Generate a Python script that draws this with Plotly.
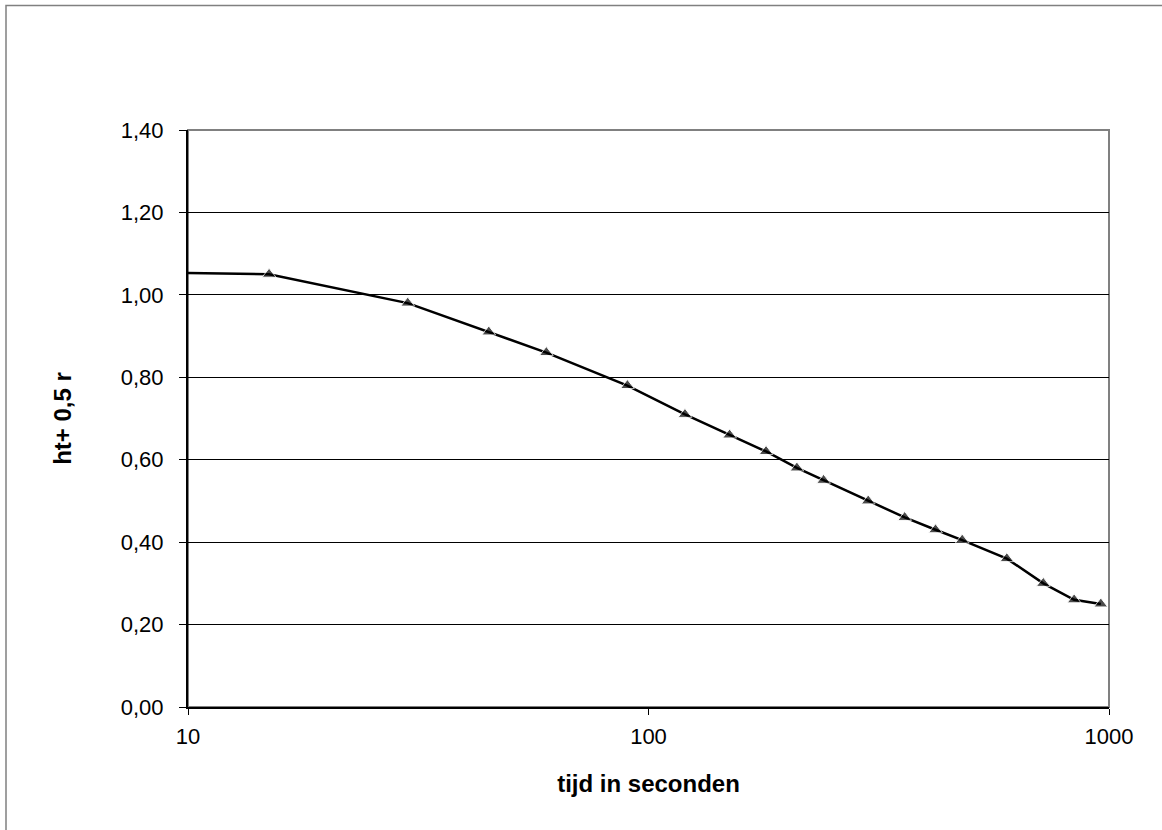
import plotly.graph_objects as go

# Data
tijd = [10, 15, 30, 45, 60, 90, 120, 150, 180, 210, 240, 300, 360, 420, 480, 600, 720, 840, 960]
waarde = [1.053, 1.05, 0.98, 0.91, 0.86, 0.78, 0.71, 0.66, 0.62, 0.58, 0.55, 0.50, 0.46, 0.43, 0.405, 0.36, 0.30, 0.26, 0.25]
marker_shown = [False] + [True] * (len(tijd) - 1)

y_ticks = [0.0, 0.2, 0.4, 0.6, 0.8, 1.0, 1.2, 1.4]
y_ticklabels = ["0,00", "0,20", "0,40", "0,60", "0,80", "1,00", "1,20", "1,40"]
x_ticks = [10, 100, 1000]
x_ticklabels = ["10", "100", "1000"]

W, H = 1162, 830
L, R, T, B = 188, 1109, 130, 707.5

fig = go.Figure()
fig.add_trace(go.Scatter(
    x=tijd, y=waarde, mode="lines+markers",
    line=dict(color="black", width=2.5),
    marker=dict(symbol="triangle-up", color="black",
                size=[12 if s else 0 for s in marker_shown]),
    showlegend=False, cliponaxis=True,
))

font = "Liberation Sans, Arial, sans-serif"
fig.update_layout(
    width=W, height=H,
    margin=dict(l=L, r=W - R, t=T, b=H - B, pad=0),
    paper_bgcolor="white", plot_bgcolor="white",
    font=dict(family=font, size=22, color="black"),
    xaxis=dict(
        type="log", range=[1, 3],
        tickvals=x_ticks, ticktext=x_ticklabels,
        ticks="outside", ticklen=6, tickcolor="black", tickwidth=1,
        showline=True, linecolor="black", linewidth=2,
        showgrid=False, zeroline=False,
        ticklabelstandoff=3,
        title=dict(text="<b>tijd in seconden</b>", font=dict(size=24), standoff=27),
    ),
    yaxis=dict(
        range=[0, 1.4],
        tickvals=y_ticks, ticktext=y_ticklabels,
        ticks="outside", ticklen=7, tickcolor="black", tickwidth=1,
        showline=True, linecolor="black", linewidth=2,
        showgrid=True, gridcolor="black", gridwidth=1,
        zeroline=False,
        ticklabelstandoff=11,
        title=dict(text="<b>ht+ 0,5 r</b>", font=dict(size=24), standoff=42),
    ),
)

pw, ph = R - L, B - T
# plot area border (top/right grey)
fig.add_shape(type="rect", xref="paper", yref="paper", x0=0, x1=1, y0=0, y1=1,
              line=dict(color="#808080", width=2), layer="below")
# outer chart border
fig.add_shape(type="rect", xref="paper", yref="paper",
              x0=(6 - L) / pw, x1=(W + 10 - L) / pw,
              y0=(B - (H + 10)) / ph, y1=(B - 5.5) / ph,
              line=dict(color="#808080", width=1.5), layer="below")

fig.write_html("out.html", config={"displayModeBar": False},
               post_script="document.body.style.margin='0';")
